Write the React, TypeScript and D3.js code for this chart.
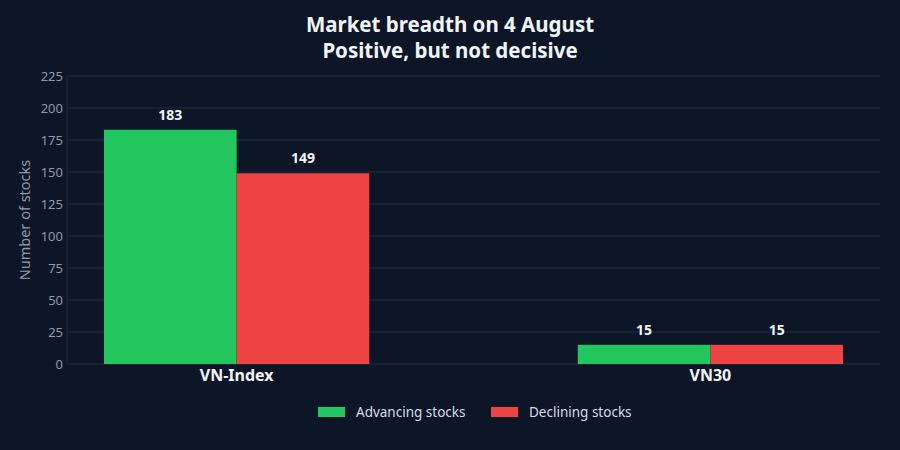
import React from 'react';
import * as d3 from 'd3';

const categories = ['VN-Index', 'VN30'];
const seriesNames = ['Advancing stocks', 'Declining stocks'];
const advancing = [183, 15];
const declining = [149, 15];
const yTicks = [0, 25, 50, 75, 100, 125, 150, 175, 200, 225];
const colors = ['#22c55e', '#ef4444'];

const W = 900;
const H = 450;
const margin = { top: 76, right: 20, bottom: 86, left: 67 };

const App: React.FC = () => {
    const innerW = W - margin.left - margin.right;
    const innerH = H - margin.top - margin.bottom;

    const x = d3.scaleBand<string>()
        .domain(categories)
        .range([margin.left, margin.left + innerW])
        .paddingInner(0.44)
        .paddingOuter(0.078);

    const xSub = d3.scaleBand<string>()
        .domain(seriesNames)
        .range([0, x.bandwidth()]);

    const y = d3.scaleLinear()
        .domain([0, 225])
        .range([margin.top + innerH, margin.top]);

    const series = [advancing, declining];
    const font = '"Noto Sans", "Open Sans", sans-serif';

    return (
        <div style={{ position: 'absolute', left: 0, top: 0, width: W, height: H, background: '#0d1627' }}>
            <svg width={W} height={H} style={{ display: 'block', fontFamily: font }}>
                <rect width={W} height={H} fill="#0d1627" />

                {/* Title */}
                <text x={W / 2} y={32} textAnchor="middle" fill="#f1f5f9" fontSize={20.5} fontWeight={700}>
                    Market breadth on 4 August
                </text>
                <text x={W / 2} y={58} textAnchor="middle" fill="#f1f5f9" fontSize={20.5} fontWeight={700}>
                    Positive, but not decisive
                </text>

                {/* Grid + y ticks */}
                {yTicks.map(t => (
                    <g key={t}>
                        <line
                            x1={margin.left} x2={margin.left + innerW}
                            y1={y(t)} y2={y(t)}
                            stroke="#1f2b3d" strokeWidth={1}
                        />
                        <text x={margin.left - 4} y={y(t)} dy="0.35em" textAnchor="end" fill="#8f9aab" fontSize={13}>
                            {t}
                        </text>
                    </g>
                ))}
                <line x1={margin.left} x2={margin.left} y1={margin.top} y2={margin.top + innerH} stroke="#1f2b3d" />

                <text
                    transform={`translate(30,${margin.top + innerH / 2}) rotate(-90)`}
                    textAnchor="middle" fill="#8f9aab" fontSize={14.5}
                >
                    Number of stocks
                </text>

                {/* Bars */}
                {categories.map((c, i) => (
                    <g key={c} transform={`translate(${x(c)},0)`}>
                        {series.map((vals, s) => (
                            <g key={s}>
                                <rect
                                    x={xSub(seriesNames[s])}
                                    y={y(vals[i])}
                                    width={xSub.bandwidth()}
                                    height={y(0) - y(vals[i])}
                                    fill={colors[s]}
                                />
                                <text
                                    x={(xSub(seriesNames[s]) as number) + xSub.bandwidth() / 2}
                                    y={y(vals[i]) - 10}
                                    textAnchor="middle" fill="#f1f5f9" fontSize={14} fontWeight={700}
                                >
                                    {vals[i]}
                                </text>
                            </g>
                        ))}
                    </g>
                ))}

                {/* X labels */}
                {categories.map(c => (
                    <text
                        key={c}
                        x={(x(c) as number) + x.bandwidth() / 2}
                        y={y(0) + 17}
                        textAnchor="middle" fill="#f1f5f9" fontSize={16} fontWeight={700}
                    >
                        {c}
                    </text>
                ))}

                {/* Legend */}
                {seriesNames.map((n, s) => {
                    const lx = s === 0 ? 318 : 491;
                    return (
                        <g key={n}>
                            <rect x={lx} y={407} width={27} height={10} fill={colors[s]} />
                            <text x={lx + 38} y={412} dy="0.35em" fill="#d6dde6" fontSize={13.5}>
                                {n}
                            </text>
                        </g>
                    );
                })}
            </svg>
        </div>
    );
};

export default App;
